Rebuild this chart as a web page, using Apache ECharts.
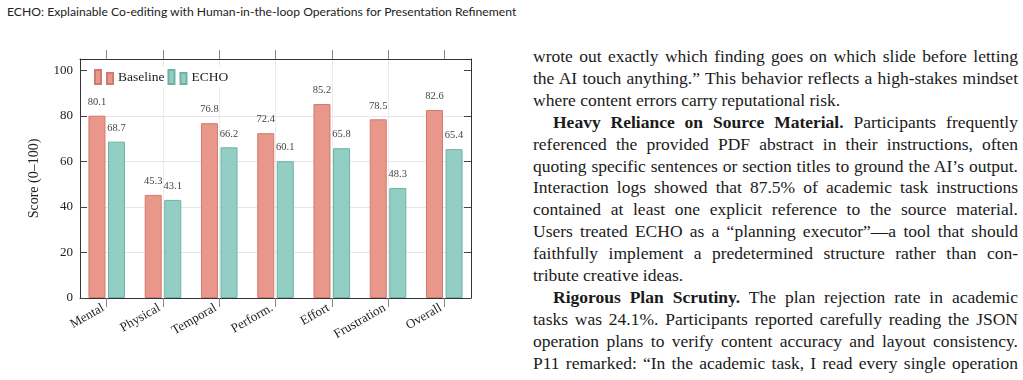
<!DOCTYPE html>
<html>
<head>
<meta charset="utf-8">
<script src="https://cdn.jsdelivr.net/npm/echarts@6/dist/echarts.min.js"></script>
<style>
  body { margin: 0; width: 1023px; height: 380px; background: #fff; position: relative; overflow: hidden; }
  #head { position: absolute; left: 7px; top: 4px; font-family: Lato, 'Open Sans', sans-serif; font-size: 12.5px; color: #222; white-space: nowrap; }
  #chart { position: absolute; left: 0; top: 0; width: 500px; height: 380px; }
  #text { position: absolute; left: 533px; top: 46px; width: 485px; font-family: 'Liberation Serif', serif; font-size: 17.5px; line-height: 21.9px; color: #1a1a1a; }
  #text div { white-space: nowrap; text-align: justify; text-align-last: justify; }
  #text div.end { text-align-last: left; }
  #text div.ind { text-indent: 20px; }
  #text.measure div { width: max-content; }
</style>
</head>
<body>
<div id="head"><span>ECHO: Explainable Co-editing with Human-in-the-loop Operations for Presentation Refinement</span></div>
<div id="chart"></div>
<div id="text">
  <div>wrote out exactly which finding goes on which slide before letting</div>
  <div>the AI touch anything.” This behavior reflects a high-stakes mindset</div>
  <div class="end">where content errors carry reputational risk.</div>
  <div class="ind"><b>Heavy Reliance on Source Material.</b> Participants frequently</div>
  <div>referenced the provided PDF abstract in their instructions, often</div>
  <div>quoting specific sentences or section titles to ground the AI’s output.</div>
  <div>Interaction logs showed that 87.5% of academic task instructions</div>
  <div>contained at least one explicit reference to the source material.</div>
  <div>Users treated ECHO as a “planning executor”—a tool that should</div>
  <div>faithfully implement a predetermined structure rather than con-</div>
  <div class="end">tribute creative ideas.</div>
  <div class="ind"><b>Rigorous Plan Scrutiny.</b> The plan rejection rate in academic</div>
  <div>tasks was 24.1%. Participants reported carefully reading the JSON</div>
  <div>operation plans to verify content accuracy and layout consistency.</div>
  <div>P11 remarked: “In the academic task, I read every single operation</div>
</div>
<script>
// NASA-TLX style scores
const categories = ['Mental', 'Physical', 'Temporal', 'Perform.', 'Effort', 'Frustration', 'Overall'];
const baselineScores = [80.1, 45.3, 76.8, 72.4, 85.2, 78.5, 82.6];
const echoScores = [68.7, 43.1, 66.2, 60.1, 65.8, 48.3, 65.4];
const yTicks = [0, 20, 40, 60, 80, 100];

const catIdx = categories.map((_, i) => i);
const serif = "'Liberation Serif', 'Times New Roman', serif";

// fit the running header and tighten body lines that run too long
const head = document.querySelector('#head span');
const hs = 12.5 * 510 / head.getBoundingClientRect().width;
document.getElementById('head').style.fontSize = hs + 'px';

const box = document.getElementById('text');
box.classList.add('measure');
[...box.children].forEach((d) => {
  const w = d.getBoundingClientRect().width;
  if (w > 484) d.style.letterSpacing = (-(w - 484) / d.textContent.length) + 'px';
});
box.classList.remove('measure');

const chart = echarts.init(document.getElementById('chart'));

const xBase = { type: 'value', min: -0.475, max: 6.475, minInterval: 1, maxInterval: 1 };
const frame = { show: true, onZero: false, lineStyle: { color: '#333', width: 1 } };

const barLabel = {
  show: true,
  position: 'top',
  distance: 8,
  fontSize: 10.5,
  color: '#444',
  formatter: (p) => p.value[1].toFixed(1)
};

chart.setOption({
  animation: false,
  textStyle: { fontFamily: serif },
  grid: { left: 80, top: 59, right: 29, bottom: 82 },
  legend: {
    left: 91,
    top: 67,
    padding: [2, 3],
    backgroundColor: '#fff',
    itemWidth: 18,
    itemHeight: 14,
    itemGap: 3,
    icon: 'path://M0,0H6V14H0ZM12,3H18V14H12Z',
    textStyle: { fontSize: 13.5, color: '#222' },
    data: ['Baseline', 'ECHO']
  },
  xAxis: [
    {
      ...xBase,
      position: 'bottom',
      axisLine: frame,
      axisTick: { show: true, customValues: catIdx, length: 9, lineStyle: { color: '#888' } },
      axisLabel: {
        customValues: catIdx,
        formatter: (v) => categories[v],
        rotate: 30,
        fontSize: 13,
        color: '#222',
        margin: 7,
        padding: [0, 4, 0, 0]
      },
      splitLine: { show: true, showMinLine: false, showMaxLine: false, lineStyle: { color: '#ececec' } }
    },
    {
      ...xBase,
      position: 'top',
      axisLine: frame,
      axisTick: { show: true, customValues: catIdx, length: 9, lineStyle: { color: '#888' } },
      axisLabel: { show: false },
      splitLine: { show: false }
    }
  ],
  yAxis: [
    {
      type: 'value',
      min: 0,
      max: 105,
      interval: 20,
      position: 'left',
      name: 'Score (0–100)',
      nameLocation: 'middle',
      nameGap: 39,
      nameTextStyle: { fontSize: 14, color: '#222' },
      axisLine: frame,
      axisTick: { show: true, inside: true, length: 7, customValues: yTicks, lineStyle: { color: '#444' } },
      axisLabel: { customValues: yTicks, fontSize: 13, color: '#222', margin: 7 },
      splitLine: { show: true, showMinLine: false, showMaxLine: false, lineStyle: { color: '#e6e6e6' } }
    },
    {
      type: 'value',
      min: 0,
      max: 105,
      interval: 20,
      position: 'right',
      axisLine: frame,
      axisTick: { show: true, inside: true, length: 7, customValues: yTicks, lineStyle: { color: '#444' } },
      axisLabel: { show: false },
      splitLine: { show: false }
    }
  ],
  series: [
    {
      name: 'Baseline',
      type: 'bar',
      data: baselineScores.map((v, i) => [i, v]),
      barWidth: 17,
      barGap: '15%',
      itemStyle: { color: '#E9968B', borderColor: '#D27A6F', borderWidth: 1 },
      label: barLabel
    },
    {
      name: 'ECHO',
      type: 'bar',
      data: echoScores.map((v, i) => [i, v]),
      barWidth: 17,
      barGap: '15%',
      itemStyle: { color: '#92CEC3', borderColor: '#6DB3A5', borderWidth: 1 },
      label: barLabel
    }
  ]
});
</script>
</body>
</html>
